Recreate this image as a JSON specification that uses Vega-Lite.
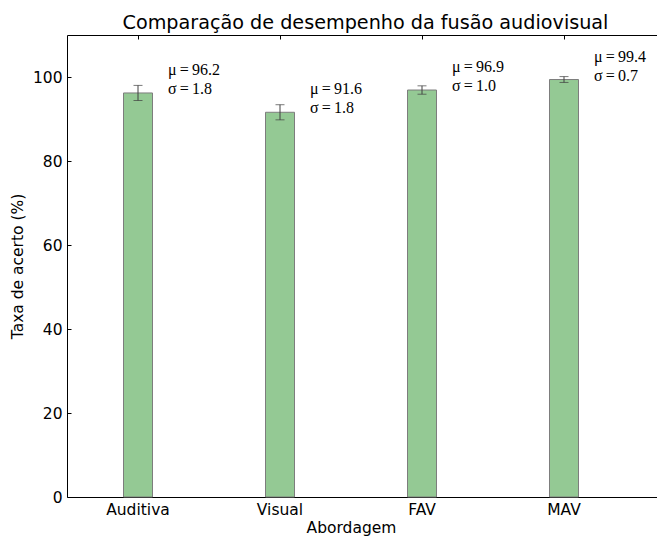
{
  "$schema": "https://vega.github.io/schema/vega-lite/v6.json",
  "autosize": "none",
  "padding": {"left": 67, "top": 35, "right": 0, "bottom": 39},
  "width": 597,
  "height": 462,
  "background": "white",
  "title": {
    "text": "Comparação de desempenho da fusão audiovisual",
    "font": "DejaVu Sans",
    "fontSize": 19.2,
    "fontWeight": "normal",
    "color": "black",
    "anchor": "middle",
    "offset": 1
  },
  "data": {
    "values": [
      {"abordagem": "Auditiva", "media": 96.2, "desvio": 1.8},
      {"abordagem": "Visual", "media": 91.6, "desvio": 1.8},
      {"abordagem": "FAV", "media": 96.9, "desvio": 1.0},
      {"abordagem": "MAV", "media": 99.4, "desvio": 0.7}
    ]
  },
  "transform": [
    {"calculate": "'μ\u2009=\u2009' + format(datum.media, '.1f')", "as": "rotulo_media"},
    {"calculate": "'σ\u2009=\u2009' + format(datum.desvio, '.1f')", "as": "rotulo_desvio"}
  ],
  "layer": [
    {
      "mark": {"type": "bar", "width": 29, "fill": "#94c994", "stroke": "#7d7d7d", "strokeWidth": 1},
      "encoding": {
        "x": {
          "field": "abordagem",
          "type": "nominal",
          "sort": null,
          "scale": {"range": [0, 568], "paddingInner": 0, "paddingOuter": 0},
          "axis": {"orient": "bottom", "title": "Abordagem", "labelAngle": 0, "labelPadding": 9, "titlePadding": 3}
        },
        "y": {
          "field": "media",
          "type": "quantitative",
          "scale": {"domain": [0, 110], "nice": false, "zero": true},
          "axis": {"title": "Taxa de acerto (%)", "values": [0, 20, 40, 60, 80, 100], "labelPadding": 9, "titlePadding": 7}
        }
      }
    },
    {
      "mark": {"type": "errorbar", "ticks": true, "size": 9, "thickness": 1, "color": "#404040"},
      "encoding": {
        "x": {"field": "abordagem", "type": "nominal", "sort": null, "axis": null},
        "y": {"field": "media", "type": "quantitative", "title": "Taxa de acerto (%)"},
        "yError": {"field": "desvio"}
      }
    },
    {
      "mark": {"type": "text", "align": "left", "baseline": "middle", "dx": 30, "dy": -23, "font": "Liberation Serif", "fontSize": 16, "color": "black"},
      "encoding": {
        "x": {
          "field": "abordagem",
          "type": "nominal",
          "sort": null,
          "axis": {"orient": "top", "labels": false, "title": null, "domain": false}
        },
        "y": {"field": "media", "type": "quantitative", "title": "Taxa de acerto (%)"},
        "text": {"field": "rotulo_media"}
      }
    },
    {
      "mark": {"type": "text", "align": "left", "baseline": "middle", "dx": 30, "dy": -4, "font": "Liberation Serif", "fontSize": 16, "color": "black"},
      "encoding": {
        "x": {"field": "abordagem", "type": "nominal", "sort": null, "axis": null},
        "y": {"field": "media", "type": "quantitative", "title": "Taxa de acerto (%)"},
        "text": {"field": "rotulo_desvio"}
      }
    }
  ],
  "resolve": {"axis": {"x": "independent"}},
  "config": {
    "view": {"stroke": "black", "strokeWidth": 1},
    "axis": {
      "domain": false,
      "grid": false,
      "ticks": true,
      "tickSize": -4,
      "tickColor": "black",
      "labelFont": "DejaVu Sans",
      "labelFontSize": 15.5,
      "labelColor": "black",
      "titleFont": "DejaVu Sans",
      "titleFontSize": 15.5,
      "titleFontWeight": "normal",
      "titleColor": "black"
    }
  }
}
